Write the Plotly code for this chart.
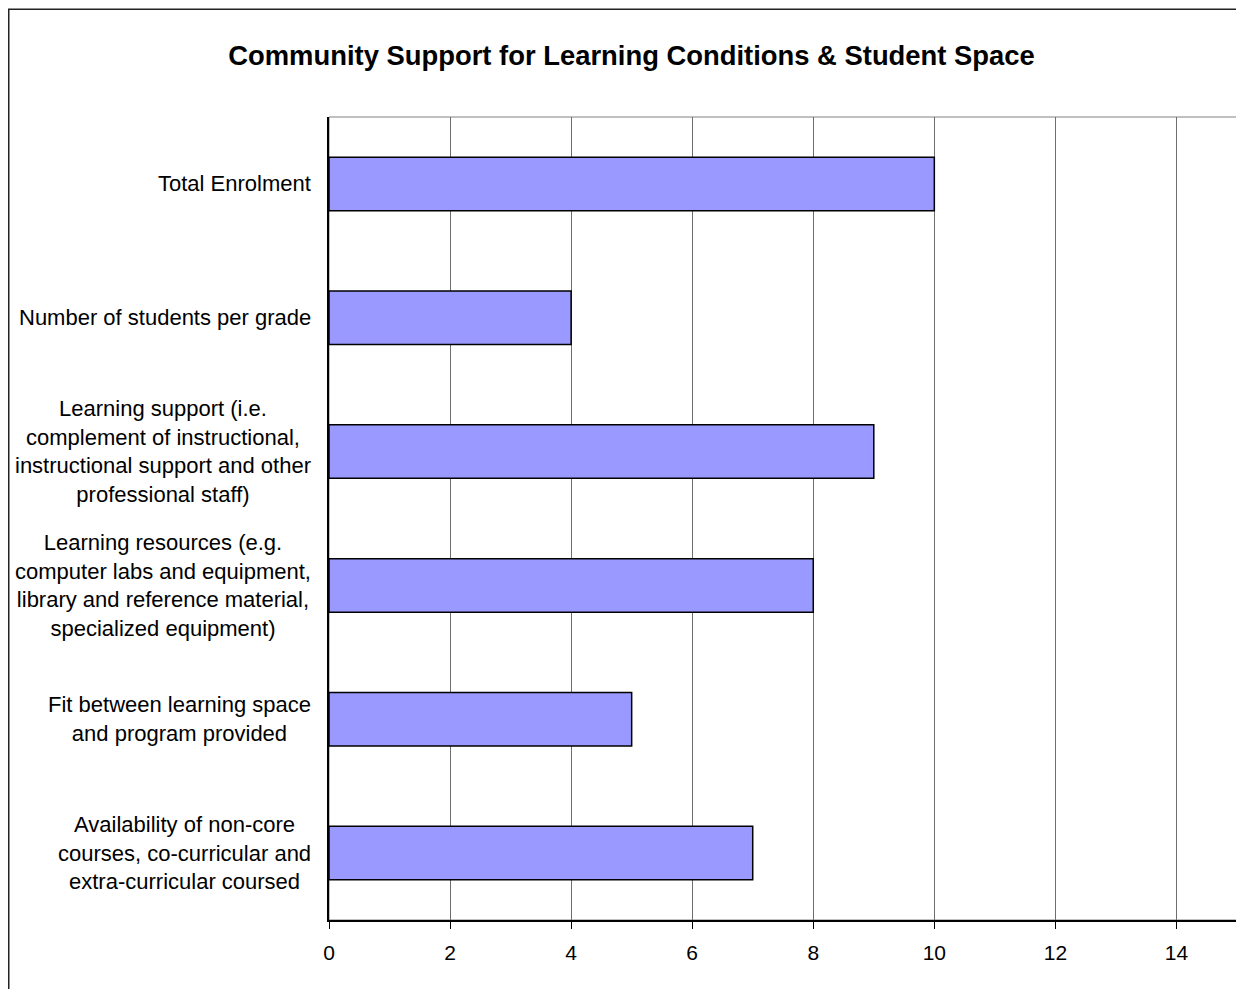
import plotly.graph_objects as go

categories = [
    "Total Enrolment",
    "Number of students per grade",
    "Learning support (i.e.<br>complement of instructional,<br>instructional support and other<br>professional staff)",
    "Learning resources (e.g.<br>computer labs and equipment,<br>library and reference material,<br>specialized equipment)",
    "Fit between learning space<br>and program provided",
    "Availability of non-core<br>courses, co-curricular and<br>extra-curricular coursed",
]
values = [10, 4, 9, 8, 5, 7]
x_ticks = [0, 2, 4, 6, 8, 10, 12, 14]

FONT = "Liberation Sans, Arial, sans-serif"
W, H = 1244, 989
L, R, T, B = 321, 15, 109, 77
pw, ph = W - L - R, H - T - B

fig = go.Figure()
fig.add_trace(go.Bar(
    y=list(range(len(categories))),
    x=values,
    orientation="h",
    width=0.4,
    marker=dict(color="#9999FF", line=dict(color="#000000", width=1.5)),
    hoverinfo="x",
))

annotations = []
for i, c in enumerate(categories):
    annotations.append(dict(
        x=0, xref="paper", y=i, yref="y",
        text=c, showarrow=False, xanchor="right", yanchor="middle",
        align="center", xshift=-16,
        font=dict(family=FONT, size=22, color="#000000"),
    ))

def px_x(p):
    return (p - L) / pw

def px_y(p):
    return (H - B - p) / ph

shapes = [
    # plot area border (gray)
    dict(type="rect", xref="paper", yref="paper", x0=0, x1=1, y0=0, y1=1,
         line=dict(color="#808080", width=1), layer="below"),
    # outer chart frame
    dict(type="rect", xref="paper", yref="paper",
         x0=px_x(0.75), x1=px_x(1300), y0=px_y(1050), y1=px_y(1.25),
         line=dict(color="#222222", width=1.5), layer="below"),
]

fig.update_layout(
    width=W, height=H,
    margin=dict(l=L, r=R, t=T, b=B),
    paper_bgcolor="white", plot_bgcolor="white",
    showlegend=False,
    title=dict(
        text="<b>Community Support for Learning Conditions & Student Space</b>",
        x=623.5 / W, xref="container", xanchor="center",
        y=1 - 47 / H, yref="container", yanchor="middle",
        font=dict(family=FONT, size=27.4, color="#000000"),
    ),
    xaxis=dict(
        range=[0, 15], tickvals=x_ticks, ticktext=[str(v) for v in x_ticks],
        showgrid=True, gridcolor="#6e6e6e", gridwidth=1,
        zeroline=False, showline=True, linecolor="#000000", linewidth=1.5,
        ticks="outside", ticklen=7, tickcolor="#000000", tickwidth=1,
        tickfont=dict(family=FONT, size=21, color="#000000"),
        ticklabelstandoff=6,
    ),
    yaxis=dict(
        range=[len(categories) - 0.5, -0.5],
        showticklabels=False, showgrid=False, zeroline=False,
        showline=True, linecolor="#000000", linewidth=1.5, ticks="",
    ),
    annotations=annotations,
    shapes=shapes,
    bargap=0.6,
)

fig.write_html("out.html")
